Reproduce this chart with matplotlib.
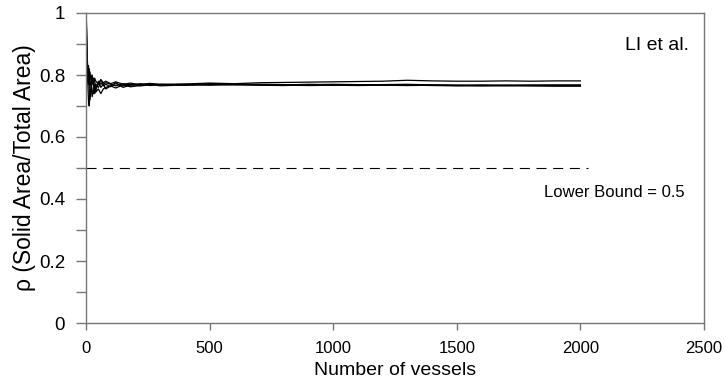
import matplotlib
matplotlib.use("Agg")
import matplotlib.pyplot as plt
from matplotlib.ticker import MultipleLocator

plt.rcParams['font.family'] = ['Liberation Sans', 'DejaVu Sans']

# sample points (number of vessels)
n = [1, 2, 4, 6, 8, 10, 13, 16, 20, 25, 30, 35, 40, 50, 60, 70, 80, 100, 120, 150,
     180, 220, 260, 300, 400, 500, 600, 700, 800, 900, 1000, 1100, 1200, 1300, 1400,
     1500, 1600, 1700, 1800, 1900, 2000]

run1 = [1.0, 0.96, 0.88, 0.84, 0.80, 0.83, 0.79, 0.81, 0.78, 0.80, 0.77, 0.79, 0.78, 0.77,
        0.785, 0.775, 0.78, 0.772, 0.778, 0.770, 0.774, 0.768, 0.772, 0.770, 0.771, 0.774,
        0.772, 0.775, 0.776, 0.777, 0.778, 0.779, 0.780, 0.783, 0.781, 0.780, 0.780, 0.781,
        0.780, 0.781, 0.781]
run2 = [1.0, 0.93, 0.85, 0.80, 0.76, 0.72, 0.70, 0.74, 0.76, 0.73, 0.75, 0.77, 0.745, 0.755,
        0.74, 0.755, 0.76, 0.765, 0.758, 0.768, 0.762, 0.766, 0.770, 0.765, 0.768, 0.770,
        0.768, 0.767, 0.766, 0.768, 0.767, 0.766, 0.767, 0.768, 0.766, 0.765, 0.766, 0.765,
        0.766, 0.765, 0.765]
run3 = [1.0, 0.90, 0.82, 0.78, 0.81, 0.77, 0.79, 0.76, 0.78, 0.75, 0.74, 0.76, 0.77, 0.76,
        0.775, 0.765, 0.77, 0.762, 0.772, 0.765, 0.77, 0.765, 0.768, 0.77, 0.768, 0.772,
        0.770, 0.769, 0.768, 0.770, 0.769, 0.768, 0.769, 0.770, 0.768, 0.767, 0.768, 0.767,
        0.768, 0.768, 0.768]
run4 = [1.0, 0.95, 0.87, 0.83, 0.79, 0.82, 0.76, 0.72, 0.75, 0.79, 0.77, 0.74, 0.75, 0.78,
        0.76, 0.77, 0.755, 0.765, 0.775, 0.76, 0.768, 0.772, 0.766, 0.769, 0.767, 0.769,
        0.771, 0.768, 0.767, 0.766, 0.767, 0.768, 0.767, 0.766, 0.767, 0.766, 0.765, 0.766,
        0.765, 0.764, 0.764]
run5 = [1.0, 0.92, 0.86, 0.81, 0.78, 0.80, 0.82, 0.79, 0.80, 0.77, 0.79, 0.78, 0.76, 0.77,
        0.785, 0.77, 0.775, 0.77, 0.765, 0.772, 0.767, 0.77, 0.773, 0.768, 0.770, 0.767,
        0.769, 0.770, 0.769, 0.768, 0.770, 0.769, 0.768, 0.767, 0.768, 0.767, 0.766, 0.767,
        0.766, 0.767, 0.767]
runs = [run1, run2, run3, run4, run5]

bound = 0.5
bound_x = [0, 2030]

fig = plt.figure(figsize=(7.25, 3.81), dpi=100)
ax = fig.add_axes([86/725, 1-323/381, 618/725, 310/381])

for r in runs:
    ax.plot(n, r, color='black', lw=0.9)

ax.plot(bound_x, [bound, bound], color='black', lw=0.8, dashes=(9, 6))

ax.set_xlim(0, 2500)
ax.set_ylim(0, 1)
ax.xaxis.set_major_locator(MultipleLocator(500))
ax.yaxis.set_major_locator(MultipleLocator(0.2))
ax.yaxis.set_minor_locator(MultipleLocator(0.1))
ax.yaxis.set_major_formatter(plt.FuncFormatter(lambda v, p: '%g' % round(v, 1)))

for s in ax.spines.values():
    s.set_color('#777777')
    s.set_linewidth(1.0)
ax.tick_params(axis='both', which='both', direction='out', colors='#777777',
               labelcolor='black', width=1.0)
ax.tick_params(axis='y', which='both', length=7, labelsize=13.5, pad=8)
ax.tick_params(axis='x', length=5, pad=8, labelsize=12)

ax.set_xlabel('Number of vessels', fontsize=14, labelpad=4)
ax.set_ylabel('ρ (Solid Area/Total Area)', fontsize=16.5, labelpad=2)

ax.text(2440, 0.895, 'LI et al.', fontsize=14, ha='right', va='center')
ax.text(2420, 0.42, 'Lower Bound = 0.5', fontsize=12, ha='right', va='center')

fig.savefig('out.png', dpi=100)
